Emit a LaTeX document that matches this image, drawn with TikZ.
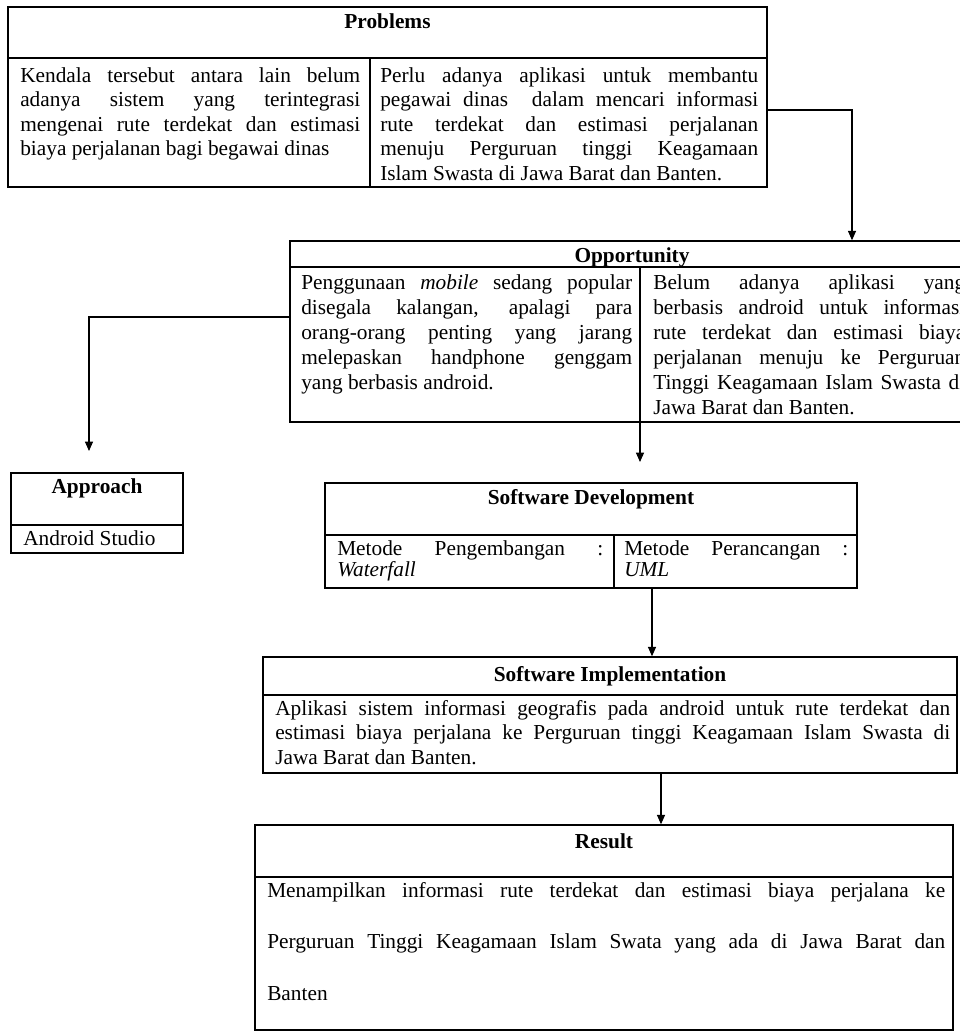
\documentclass[tikz,border=0pt]{standalone}
\usepackage{fontspec}
\setmainfont{Liberation Serif}
\usetikzlibrary{arrows.meta,fit,calc}
\newcommand{\txtfont}[1]{\fontsize{16}{#1}\selectfont\tolerance=10000\hyphenpenalty=10000\exhyphenpenalty=10000\relax}
\begin{document}
\begin{tikzpicture}[x=0.75pt,y=-0.75pt,
  box/.style={draw, line width=1.1pt, inner sep=0pt, rectangle},
  rule/.style={line width=1.1pt},
  hd/.style={anchor=base, inner sep=0pt, font=\fontsize{16}{18}\selectfont\bfseries},
  txt/.style={anchor=base west, inner sep=0pt, align=justify, text width=#1},
  arr/.style={draw, line width=0.8pt, -{Triangle[length=7pt,width=6pt]}}]
\useasboundingbox (0,0) rectangle (960,1032);
\fill[white] (0,0) rectangle (960,1032);
\clip (0,0) rectangle (960,1032);

% ---------- Problems ----------
\coordinate (p1) at (8,7); \coordinate (p2) at (767,187);
\node[box, fit=(p1)(p2)] (prob) {};
\draw[rule] (8,58) -- (767,58);
\draw[rule] (370,58) -- (370,187);
\node[hd] (probH) at (387.5,28) {Problems};
\node[txt=255pt, font=\txtfont{18.375pt}] (probL) at (20,82)
 {Kendala tersebut antara lain belum\linebreak adanya sistem yang terintegrasi\linebreak mengenai rute terdekat dan estimasi\linebreak biaya perjalanan bagi begawai dinas};
\node[txt=283.5pt, font=\txtfont{18.375pt}] (probR) at (380,82)
 {Perlu adanya aplikasi untuk membantu\linebreak pegawai dinas\ \ dalam mencari informasi\linebreak rute terdekat dan estimasi perjalanan\linebreak menuju Perguruan tinggi Keagamaan\linebreak Islam Swasta di Jawa Barat dan Banten.};

% ---------- Opportunity ----------
\coordinate (o1) at (290,241); \coordinate (o2) at (975,422);
\node[box, fit=(o1)(o2)] (opp) {};
\draw[rule] (290,267) -- (975,267);
\draw[rule] (640,267) -- (640,422);
\node[hd] (oppH) at (632,262) {Opportunity};
\node[txt=248.25pt, font=\txtfont{18.75pt}] (oppL) at (301,289)
 {Penggunaan \emph{mobile} sedang popular\linebreak disegala kalangan, apalagi para\linebreak orang-orang penting yang jarang\linebreak melepaskan handphone genggam\linebreak yang berbasis android.};
\node[txt=234pt, font=\txtfont{18.75pt}] (oppR) at (653,289)
 {Belum adanya aplikasi yang\linebreak berbasis android untuk informasi\linebreak rute terdekat dan estimasi biaya\linebreak perjalanan menuju ke Perguruan\linebreak Tinggi Keagamaan Islam Swasta di\linebreak Jawa Barat dan Banten.};

% ---------- Approach ----------
\coordinate (a1) at (11,473); \coordinate (a2) at (183,553);
\node[box, fit=(a1)(a2)] (appr) {};
\draw[rule] (11,525) -- (183,525);
\node[hd] (apprH) at (97,493) {Approach};
\node[anchor=base west, inner sep=0pt, font=\txtfont{18pt}] (apprT) at (23,545) {Android Studio};

% ---------- Software Development ----------
\coordinate (s1) at (325,483); \coordinate (s2) at (857,588);
\node[box, fit=(s1)(s2)] (sd) {};
\draw[rule] (325,535) -- (857,535);
\draw[rule] (614,535) -- (614,588);
\node[hd] (sdH) at (591,504) {Software Development};
\node[txt=199.5pt, font=\txtfont{15.75pt}] (sdL) at (337,555)
 {Metode Pengembangan :\linebreak \emph{Waterfall}};
\node[txt=168pt, font=\txtfont{15.75pt}] (sdR) at (624,555)
 {Metode Perancangan :\linebreak \emph{UML}};

% ---------- Software Implementation ----------
\coordinate (i1) at (263,657); \coordinate (i2) at (957,773);
\node[box, fit=(i1)(i2)] (si) {};
\draw[rule] (263,695) -- (957,695);
\node[hd] (siH) at (610,681) {Software Implementation};
\node[txt=506.25pt, font=\txtfont{18.375pt}] (siT) at (275,715)
 {Aplikasi sistem informasi geografis pada android untuk rute terdekat dan\linebreak estimasi biaya perjalana ke Perguruan tinggi Keagamaan Islam Swasta di\linebreak Jawa Barat dan Banten.};

% ---------- Result ----------
\coordinate (r1) at (255,825); \coordinate (r2) at (953,1030);
\node[box, fit=(r1)(r2)] (res) {};
\draw[rule] (255,877) -- (953,877);
\node[hd, font=\fontsize{16}{18}\selectfont] (resH) at (604,848) {\textbf{Result}};
\node[txt=508.5pt, font=\txtfont{38.625pt}] (resT) at (267,897)
 {Menampilkan informasi rute terdekat dan estimasi biaya perjalana ke\linebreak Perguruan Tinggi Keagamaan Islam Swata yang ada di Jawa Barat dan\linebreak Banten};

% ---------- Connectors ----------
\coordinate (k1) at (852,110);
\draw[arr] (k1 -| prob.east) -| (opp.north -| k1);
\coordinate (k2) at (89,317);
\coordinate (apTip) at (89,451);
\draw[arr] (k2 -| opp.west) -| (apTip);
\coordinate (sdTip) at (640,462);
\draw[arr] (opp.south -| sdTip) -- (sdTip);
\coordinate (k4) at (652,0);
\draw[arr] (sd.south -| k4) -- (si.north -| k4);
\coordinate (k5) at (661,0);
\draw[arr] (si.south -| k5) -- (res.north -| k5);
\end{tikzpicture}
\end{document}
